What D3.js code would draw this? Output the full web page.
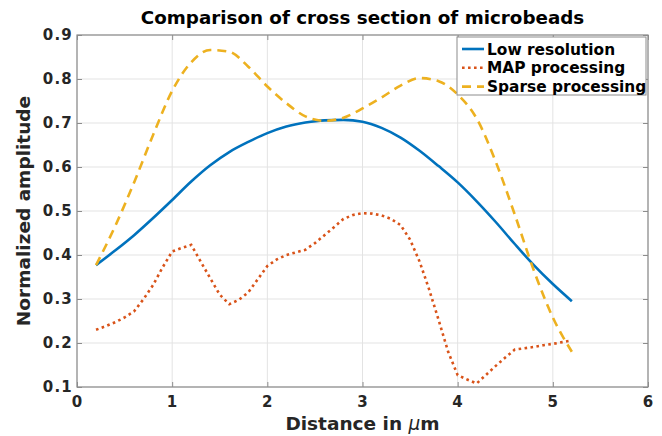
<!DOCTYPE html>
<head>
<meta charset="utf-8">
<script src="https://d3js.org/d3.v7.min.js"></script>
<style>
  body { margin: 0; background: #fff; }
  text { font-family: "DejaVu Sans", sans-serif; font-weight: bold; }
  .tick text { fill: #262626; font-size: 15px; letter-spacing: 1.2px; }
  .grid line { stroke: #e3e3e3; }
  .axis path.domain { display: none; }
  .axis .tick line { stroke: #8c8c8c; }
</style>
</head>
<body>
<script>
// series
const lowX = [0.2,0.4,0.6,0.8,1.0,1.2,1.4,1.6,1.8,2.0,2.2,2.4,2.6,2.8,3.0,3.2,3.4,3.6,3.8,4.0,4.2,4.4,4.6,4.8,5.0,5.2];
const lowRes = [0.377,0.410,0.445,0.484,0.525,0.567,0.604,0.634,0.657,0.677,0.692,0.701,0.706,0.707,0.703,0.689,0.667,0.637,0.602,0.565,0.522,0.475,0.425,0.377,0.334,0.295];

const sparseX = lowX;
const sparse = [0.377,0.465,0.565,0.673,0.773,0.838,0.866,0.862,0.828,0.783,0.745,0.715,0.705,0.712,0.733,0.758,0.785,0.802,0.795,0.765,0.710,0.612,0.492,0.365,0.258,0.180];

const mapX = [0.2,0.3,0.4,0.5,0.6,0.7,0.8,0.9,1.0,1.1,1.2,1.3,1.4,1.5,1.6,1.7,1.8,1.9,2.0,2.1,2.2,2.3,2.4,2.5,2.6,2.7,2.8,2.9,3.0,3.1,3.2,3.3,3.4,3.5,3.6,3.7,3.8,3.9,4.0,4.1,4.2,4.3,4.4,4.5,4.6,4.7,4.8,4.9,5.0,5.1,5.2];
const mapProc = [0.230,0.238,0.247,0.258,0.272,0.300,0.332,0.372,0.408,0.416,0.423,0.385,0.347,0.310,0.288,0.298,0.315,0.345,0.375,0.390,0.400,0.406,0.412,0.427,0.445,0.463,0.482,0.491,0.495,0.494,0.490,0.482,0.468,0.435,0.385,0.322,0.252,0.180,0.127,0.117,0.108,0.128,0.148,0.167,0.185,0.188,0.191,0.195,0.198,0.202,0.206];

const xTicks = [0,1,2,3,4,5,6];
const yTicks = [0.1,0.2,0.3,0.4,0.5,0.6,0.7,0.8,0.9];
const seriesNames = ["Low resolution", "MAP processing", "Sparse processing"];

const width = 662, height = 436;
const margin = {top: 35, right: 14, bottom: 49, left: 77};

const svg = d3.select("body").append("svg")
  .attr("width", width)
  .attr("height", height);

const x = d3.scaleLinear().domain([0, 6]).range([margin.left, width - margin.right]);
const y = d3.scaleLinear().domain([0.1, 0.9]).range([height - margin.bottom, margin.top]);

// grid
svg.append("g").attr("class", "grid")
  .selectAll("line.gx").data(xTicks).enter().append("line")
  .attr("x1", d => x(d)).attr("x2", d => x(d))
  .attr("y1", y(0.1)).attr("y2", y(0.9));
svg.append("g").attr("class", "grid")
  .selectAll("line.gy").data(yTicks).enter().append("line")
  .attr("x1", x(0)).attr("x2", x(6))
  .attr("y1", d => y(d)).attr("y2", d => y(d));

// axes with inward ticks on all four sides
svg.append("g").attr("class", "axis")
  .attr("transform", `translate(0,${y(0.1)})`)
  .call(d3.axisBottom(x).tickValues(xTicks).tickSize(-5).tickPadding(9).tickFormat(d3.format("d")));
svg.append("g").attr("class", "axis")
  .attr("transform", `translate(0,${y(0.9)})`)
  .call(d3.axisTop(x).tickValues(xTicks).tickSize(-5).tickFormat(""));
svg.append("g").attr("class", "axis")
  .attr("transform", `translate(${x(0)},0)`)
  .call(d3.axisLeft(y).tickValues(yTicks).tickSize(-5).tickPadding(4).tickFormat(d3.format(".1f")));
svg.append("g").attr("class", "axis")
  .attr("transform", `translate(${x(6)},0)`)
  .call(d3.axisRight(y).tickValues(yTicks).tickSize(-5).tickFormat(""));

svg.append("rect")
  .attr("x", x(0)).attr("y", y(0.9))
  .attr("width", x(6) - x(0)).attr("height", y(0.1) - y(0.9))
  .attr("fill", "none").attr("stroke", "#8c8c8c").attr("stroke-width", 1.2);

// lines
const line = d3.line().x(d => x(d[0])).y(d => y(d[1]));
const series = [
  {name: seriesNames[0], pts: d3.zip(lowX, lowRes), color: "#0072bd", dash: null, curve: d3.curveMonotoneX},
  {name: seriesNames[1], pts: d3.zip(mapX, mapProc), color: "#d95319", dash: "2.6,3.4", curve: d3.curveLinear},
  {name: seriesNames[2], pts: d3.zip(sparseX, sparse), color: "#edb120", dash: "9,6", curve: d3.curveMonotoneX}
];

svg.selectAll("path.series").data(series).enter().append("path")
  .attr("class", "series")
  .attr("fill", "none")
  .attr("stroke", d => d.color)
  .attr("stroke-width", 2.6)
  .attr("stroke-dasharray", d => d.dash)
  .attr("d", d => line.curve(d.curve)(d.pts));

// legend
const lg = svg.append("g").attr("transform", "translate(457,37)");
lg.append("rect").attr("width", 189).attr("height", 58)
  .attr("fill", "#fff").attr("stroke", "#8c8c8c").attr("stroke-width", 1);
const row = lg.selectAll("g.row").data(series).enter().append("g")
  .attr("transform", (d, i) => `translate(0,${12 + i * 18.8})`);
row.append("line").attr("x1", 5).attr("x2", 27)
  .attr("stroke", d => d.color).attr("stroke-width", 2.6)
  .attr("stroke-dasharray", d => d.dash);
row.append("text").attr("x", 30).attr("y", 5.5)
  .style("font-size", "15.4px").attr("fill", "#000")
  .text(d => d.name);

// title and labels
svg.append("text")
  .attr("x", (x(0) + x(6)) / 2).attr("y", 24)
  .attr("text-anchor", "middle")
  .style("font-size", "18.3px").attr("fill", "#000")
  .text("Comparison of cross section of microbeads");

const xl = svg.append("text")
  .attr("x", (x(0) + x(6)) / 2).attr("y", 430)
  .attr("text-anchor", "middle")
  .style("font-size", "18.5px").attr("fill", "#262626");
xl.append("tspan").text("Distance in ");
xl.append("tspan").style("font-style", "italic").style("font-weight", "normal").text("\u03bc");
xl.append("tspan").text("m");

svg.append("text")
  .attr("transform", `translate(30,${(y(0.1) + y(0.9)) / 2}) rotate(-90)`)
  .attr("text-anchor", "middle")
  .style("font-size", "18.5px").attr("fill", "#262626")
  .text("Normalized amplitude");
</script>
</body>
